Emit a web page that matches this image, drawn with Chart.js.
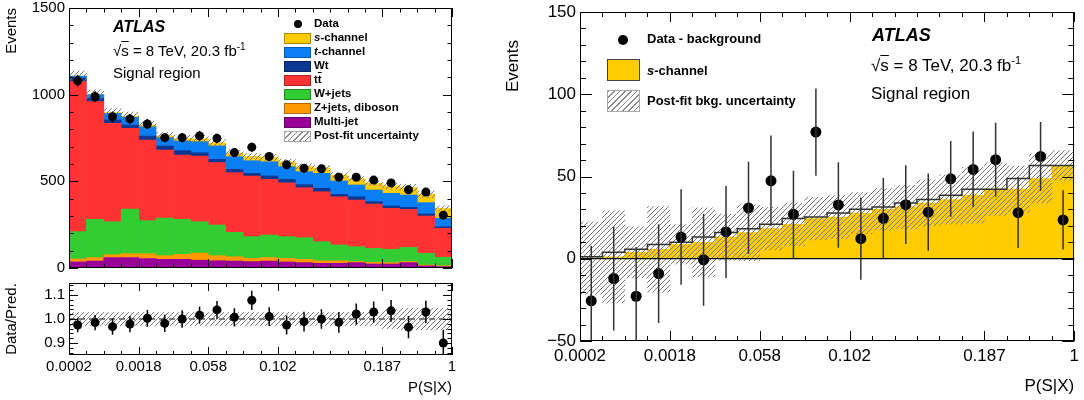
<!DOCTYPE html>
<html>
<head>
<meta charset="utf-8">
<script src="https://cdn.jsdelivr.net/npm/chart.js@4.4.1/dist/chart.umd.min.js"></script>
<style>
  html, body { margin: 0; padding: 0; background: #fff; }
  body { width: 1084px; height: 400px; position: relative; overflow: hidden;
         font-family: "Liberation Sans", Arial, Helvetica, sans-serif; color: #000; }
  canvas { position: absolute; }
  .txt { position: absolute; white-space: nowrap; line-height: 1; }
  .leg { position: absolute; white-space: nowrap; font-weight: bold; }
  .sw { position: absolute; box-sizing: border-box; }
  .dot { position: absolute; border-radius: 50%; background: #000; }
  .ov { text-decoration: overline; }
  .hatch { background: repeating-linear-gradient(135deg, #8a8a8a 0 1px, #fff 1px 4px); }
</style>
</head>
<body>
<canvas id="cTop" width="460" height="276" style="left:0;top:0"></canvas>
<canvas id="cRatio" width="460" height="124" style="left:0;top:276px"></canvas>
<canvas id="cRight" width="584" height="400" style="left:500px;top:0"></canvas>

<!-- left panel labels -->
<div class="txt" style="left:113px;top:18px;font:italic bold 16px 'Liberation Sans',Arial,sans-serif">ATLAS</div>
<div class="txt" style="left:113px;top:42px;font-size:15px">√<span class="ov">s</span> = 8 TeV, 20.3 fb<sup style="font-size:10px">-1</sup></div>
<div class="txt" style="left:113px;top:65px;font-size:15px">Signal region</div>

<!-- left legend -->
<div class="dot" style="left:294px;top:20px;width:8px;height:8px"></div>
<div class="leg" style="left:314px;top:17px;font-size:11.5px">Data</div>
<div class="sw" style="left:284px;top:33px;width:27px;height:11px;background:#ffcc00;border:1px solid #b08c00"></div>
<div class="leg" style="left:314px;top:31px;font-size:11.5px"><i>s</i>-channel</div>
<div class="sw" style="left:284px;top:47px;width:27px;height:11px;background:#0a7ff5;border:1px solid #0659b0"></div>
<div class="leg" style="left:314px;top:45px;font-size:11.5px"><i>t</i>-channel</div>
<div class="sw" style="left:284px;top:61px;width:27px;height:11px;background:#0b3892;border:1px solid #062360"></div>
<div class="leg" style="left:314px;top:59px;font-size:11.5px">Wt</div>
<div class="sw" style="left:284px;top:75px;width:27px;height:11px;background:#ff3333;border:1px solid #b82020"></div>
<div class="leg" style="left:314px;top:73px;font-size:11.5px">t<span class="ov">t</span></div>
<div class="sw" style="left:284px;top:89px;width:27px;height:11px;background:#33cc33;border:1px solid #1f8a1f"></div>
<div class="leg" style="left:314px;top:87px;font-size:11.5px">W+jets</div>
<div class="sw" style="left:284px;top:103px;width:27px;height:11px;background:#ff9900;border:1px solid #b36b00"></div>
<div class="leg" style="left:314px;top:101px;font-size:11.5px">Z+jets, diboson</div>
<div class="sw" style="left:284px;top:117px;width:27px;height:11px;background:#990099;border:1px solid #660066"></div>
<div class="leg" style="left:314px;top:115px;font-size:11.5px">Multi-jet</div>
<div class="sw hatch" style="left:284px;top:131px;width:27px;height:11px;border:1px solid #aaa"></div>
<div class="leg" style="left:314px;top:129px;font-size:11.5px">Post-fit uncertainty</div>

<!-- right panel labels -->
<div class="txt" style="left:512px;top:66px;font-size:17px;transform:translate(-50%,-50%) rotate(-90deg);transform-origin:center">Events</div>
<div class="txt" style="left:872px;top:25px;font:italic bold 18px 'Liberation Sans',Arial,sans-serif">ATLAS</div>
<div class="txt" style="left:871px;top:55px;font-size:17px">√<span class="ov">s</span> = 8 TeV, 20.3 fb<sup style="font-size:11px">-1</sup></div>
<div class="txt" style="left:871px;top:85px;font-size:17px">Signal region</div>

<!-- right legend -->
<div class="dot" style="left:618px;top:35px;width:10px;height:10px"></div>
<div class="leg" style="left:647px;top:31px;font-size:13px">Data - background</div>
<div class="sw" style="left:607px;top:59px;width:33px;height:22px;background:#ffcc00;border:1px solid #444"></div>
<div class="leg" style="left:647px;top:63px;font-size:13px"><i>s</i>-channel</div>
<div class="sw hatch" style="left:607px;top:90px;width:33px;height:22px;border:1px solid #aaa"></div>
<div class="leg" style="left:647px;top:93px;font-size:13px">Post-fit bkg. uncertainty</div>

<script>
  "use strict";

  // ====
  // Data
  // ====
  const binCount = 22;
  const binLabels = Array.from({ length: binCount }, (_, i) => String(i + 1));
  const tickPos = [0, 4, 8, 12, 18, 22];
  const tickLabels = ["0.0002", "0.0018", "0.058", "0.102", "0.187", "1"];
  const ratioTicks = [0.9, 1.0, 1.1];

  // stacked prediction, events per bin
  const multiJet = [35, 40, 60, 60, 54, 50, 50, 45, 42, 40, 37, 40, 35, 31, 27, 27, 31, 23, 23, 31, 12, 8];
  const zJetsDiboson = [17, 20, 17, 23, 29, 21, 29, 41, 29, 25, 19, 20, 21, 19, 15, 15, 6, 10, 8, 6, 5, 5];
  const wJets = [158, 221, 190, 257, 190, 217, 202, 181, 177, 141, 125, 130, 125, 125, 110, 91, 86, 80, 77, 82, 68, 49];
  const ttbar = [866, 679, 568, 466, 465, 393, 371, 378, 360, 344, 350, 321, 311, 288, 288, 278, 269, 256, 236, 219, 215, 167];
  const wt = [19, 19, 19, 19, 23, 23, 25, 20, 19, 19, 15, 20, 19, 18, 20, 14, 19, 14, 14, 12, 12, 9];
  const tChannel = [12, 21, 38, 45, 54, 48, 56, 64, 77, 73, 73, 82, 74, 75, 86, 77, 68, 67, 73, 71, 65, 49];
  const sChannel = [0.3, 1.2, 3.9, 5.7, 8.7, 10, 13.2, 15.9, 18.3, 20.9, 24.4, 25.4, 27.8, 30.1, 31.5, 33.9, 36, 38.6, 42.3, 42.3, 48.8, 56.7];
  const predUnc = [30, 27, 24, 24, 22, 21, 20, 20, 19, 18, 17, 17, 16, 16, 15, 14, 14, 13, 17, 20, 19, 15];

  const dataEvents = [1080, 988, 873, 860, 831, 752, 752, 762, 748, 666, 697, 643, 595, 576, 572, 524, 524, 507, 491, 451, 438, 305];
  const dataErr = [33, 31, 30, 29, 29, 27, 27, 28, 27, 26, 26, 25, 24, 24, 24, 23, 23, 22, 22, 21, 21, 17];

  // ratio panel
  const ratio = [0.975, 0.985, 0.968, 0.979, 1.003, 0.982, 1.0, 1.016, 1.038, 1.007, 1.078, 1.01, 0.975, 0.989, 1.0, 0.986, 1.021, 1.029, 1.034, 0.966, 1.029, 0.9];
  const ratioErr = [0.03, 0.032, 0.034, 0.034, 0.035, 0.036, 0.036, 0.036, 0.037, 0.038, 0.04, 0.039, 0.04, 0.041, 0.041, 0.043, 0.044, 0.044, 0.045, 0.046, 0.047, 0.055];
  const ratioUnc = [0.027, 0.027, 0.027, 0.027, 0.027, 0.027, 0.027, 0.027, 0.027, 0.027, 0.027, 0.027, 0.027, 0.027, 0.027, 0.027, 0.028, 0.028, 0.04, 0.045, 0.045, 0.045];

  // right panel: data minus background
  const dataMinusBkg = [-25.6, -12, -22.8, -9, 13.2, -0.6, 16.3, 30.9, 47.4, 27, 77, 32.7, 12.2, 24.6, 32.9, 28.3, 48.6, 54.3, 60.2, 28, 62.2, 23.6];
  const dataMinusBkgErr = [33.5, 31.6, 30, 30, 29, 28, 28, 28, 27.5, 26.5, 26.5, 26, 25, 24.5, 24, 23.5, 23, 23, 22.5, 21.5, 21, 18];
  const bkgUnc = [22, 28, 15.5, 26, 12, 21, 14, 17, 13, 13, 13, 13, 12.5, 12.5, 13, 14, 15, 17, 16, 14, 15, 9];

  // =======
  // Helpers
  // =======
  Chart.defaults.font.family = "'Liberation Sans', Arial, Helvetica, sans-serif";
  Chart.defaults.color = "#000";

  const makeHatch = (color) => {
    const c = document.createElement("canvas");
    c.width = 5;
    c.height = 5;
    const g = c.getContext("2d");
    g.strokeStyle = color;
    g.lineWidth = 1;
    g.beginPath();
    g.moveTo(-1, 6); g.lineTo(6, -1);
    g.moveTo(-3.5, 3.5); g.lineTo(3.5, -3.5);
    g.moveTo(1.5, 8.5); g.lineTo(8.5, 1.5);
    g.stroke();
    return g.createPattern(c, "repeat");
  };
  const hatch = makeHatch("#7a7a7a");

  // ROOT-style frame with inward ticks on all four sides
  const rootFrame = {
    id: "rootFrame",
    afterDraw(chart, args, opts) {
      const { ctx, chartArea: a } = chart;
      const xs = chart.scales.xr;
      const ys = chart.scales.y;
      ctx.save();
      ctx.strokeStyle = "#000";
      ctx.lineWidth = 1;
      ctx.beginPath();
      for (let i = 0; i <= binCount; i++) {
        const px = Math.round(xs.getPixelForValue(i)) + 0.5;
        const len = tickPos.includes(i) ? opts.xMajor : opts.xMinor;
        ctx.moveTo(px, a.bottom); ctx.lineTo(px, a.bottom - len);
        ctx.moveTo(px, a.top); ctx.lineTo(px, a.top + len);
      }
      const k0 = Math.ceil(ys.min / opts.yMinorStep - 1e-6);
      const k1 = Math.floor(ys.max / opts.yMinorStep + 1e-6);
      for (let k = k0; k <= k1; k++) {
        const v = k * opts.yMinorStep;
        const r = v / opts.yStep;
        const major = Math.abs(r - Math.round(r)) < 1e-6;
        const len = major ? opts.yMajor : opts.yMinor;
        const py = Math.round(ys.getPixelForValue(v)) + 0.5;
        ctx.moveTo(a.left, py); ctx.lineTo(a.left + len, py);
        ctx.moveTo(a.right, py); ctx.lineTo(a.right - len, py);
      }
      ctx.stroke();
      ctx.strokeRect(Math.round(a.left) + 0.5, Math.round(a.top) + 0.5,
        Math.round(a.right - a.left) - 1, Math.round(a.bottom - a.top) - 1);
      ctx.restore();
    },
  };

  // vertical error bars on point datasets
  const errorBars = {
    id: "errorBars",
    afterDatasetsDraw(chart) {
      const { ctx, chartArea: a } = chart;
      chart.data.datasets.forEach((ds, di) => {
        if (!ds.errors) return;
        const meta = chart.getDatasetMeta(di);
        const ys = chart.scales[meta.yAxisID];
        ctx.save();
        ctx.beginPath();
        ctx.rect(a.left, a.top, a.right - a.left, a.bottom - a.top);
        ctx.clip();
        ctx.strokeStyle = ds.errorColor || "#000";
        ctx.lineWidth = ds.errorWidth || 1.5;
        ctx.beginPath();
        meta.data.forEach((pt, i) => {
          const v = ds.data[i];
          const e = ds.errors[i];
          ctx.moveTo(pt.x, ys.getPixelForValue(v + e));
          ctx.lineTo(pt.x, ys.getPixelForValue(v - e));
        });
        ctx.stroke();
        ctx.restore();
      });
    },
  };

  const baseOptions = (frame) => ({
    animation: false,
    responsive: false,
    events: [],
    plugins: {
      legend: { display: false },
      tooltip: { enabled: false },
      rootFrame: frame,
    },
  });

  // fixed axis width, no extra vertical padding for end labels
  const fixWidth = (w) => (s) => {
    s.width = w;
    s.paddingTop = 0;
    s.paddingBottom = 0;
  };

  const stackBar = (label, data, color) => ({
    type: "bar",
    label,
    data,
    backgroundColor: color,
    borderWidth: 0,
    barPercentage: 1,
    categoryPercentage: 1,
    order: 3,
  });

  const xTickAxis = (size, height, pad) => ({
    type: "linear",
    position: "bottom",
    min: 0,
    max: binCount,
    afterBuildTicks: (s) => { s.ticks = tickPos.map((v) => ({ value: v })); },
    ticks: {
      callback: (v, i) => tickLabels[i],
      autoSkip: false,
      maxRotation: 0,
      padding: pad,
      font: { size },
      color: "#000",
    },
    grid: { display: false, drawTicks: false },
    border: { display: false },
    title: { display: true, text: "P(S|X)", align: "end", font: { size }, padding: { top: 2, bottom: 3 } },
    afterFit: (s) => { s.height = height; },
  });

  // ==========
  // Top-left
  // ==========
  const totals = multiJet.map((v, i) => v + zJetsDiboson[i] + wJets[i] + ttbar[i] + wt[i] + tChannel[i] + sChannel[i]);

  new Chart(document.getElementById("cTop"), {
    data: {
      labels: binLabels,
      datasets: [
        stackBar("Multi-jet", multiJet, "#990099"),
        stackBar("Z+jets, diboson", zJetsDiboson, "#ff9900"),
        stackBar("W+jets", wJets, "#33cc33"),
        stackBar("ttbar", ttbar, "#ff3333"),
        stackBar("Wt", wt, "#0b3892"),
        stackBar("t-channel", tChannel, "#0a7ff5"),
        stackBar("s-channel", sChannel, "#ffcc00"),
        {
          type: "bar",
          label: "Post-fit uncertainty",
          data: totals.map((t, i) => [t - predUnc[i], t + predUnc[i]]),
          yAxisID: "y2",
          backgroundColor: hatch,
          borderWidth: 0,
          grouped: false,
          barPercentage: 1,
          categoryPercentage: 1,
          order: 2,
        },
        {
          type: "line",
          label: "Data",
          data: dataEvents,
          errors: dataErr,
          yAxisID: "y2",
          showLine: false,
          pointRadius: 4.5,
          pointBorderWidth: 0,
          pointBackgroundColor: "#000",
          order: 1,
        },
      ],
    },
    options: {
      ...baseOptions({ xMajor: 9, xMinor: 4.5, yStep: 500, yMinorStep: 100, yMajor: 9, yMinor: 4.5 }),
      layout: { autoPadding: false, padding: { left: 0, top: 8, right: 8, bottom: 8 } },
      scales: {
        x: { type: "category", stacked: true, display: false, offset: true },
        xr: { type: "linear", min: 0, max: binCount, display: false },
        y: {
          stacked: true,
          min: 0,
          max: 1500,
          ticks: { stepSize: 500, padding: 4, font: { size: 15 }, color: "#000", callback: (v) => String(v) },
          grid: { display: false, drawTicks: false },
          border: { display: false },
          title: { display: true, text: "Events", align: "end", font: { size: 15 }, padding: { top: 3, bottom: 3 } },
          afterFit: fixWidth(69),
        },
        y2: { min: 0, max: 1500, display: false },
      },
    },
    plugins: [rootFrame, errorBars],
  });

  // ==========
  // Ratio
  // ==========
  new Chart(document.getElementById("cRatio"), {
    data: {
      labels: binLabels,
      datasets: [
        {
          type: "bar",
          data: ratioUnc.map((u) => [1 - u, 1 + u]),
          backgroundColor: hatch,
          borderWidth: 0,
          grouped: false,
          barPercentage: 1,
          categoryPercentage: 1,
          order: 3,
        },
        {
          type: "line",
          data: [{ x: 0, y: 1 }, { x: binCount, y: 1 }],
          xAxisID: "xr",
          borderColor: "#555",
          borderWidth: 1.5,
          borderDash: [6, 4],
          pointRadius: 0,
          order: 2,
        },
        {
          type: "line",
          data: ratio,
          errors: ratioErr,
          xAxisID: "x",
          showLine: false,
          pointRadius: 4.5,
          pointBorderWidth: 0,
          pointBackgroundColor: "#000",
          order: 1,
        },
      ],
    },
    options: {
      ...baseOptions({ xMajor: 8, xMinor: 4, yStep: 0.1, yMinorStep: 0.02, yMajor: 9, yMinor: 4.5 }),
      layout: { autoPadding: false, padding: { left: 0, top: 7, right: 8, bottom: 0 } },
      scales: {
        x: { type: "category", display: false, offset: true },
        xr: xTickAxis(15, 45, 3),
        y: {
          min: 0.85,
          max: 1.15,
          afterBuildTicks: (s) => { s.ticks = ratioTicks.map((v) => ({ value: v })); },
          ticks: { callback: (v) => v.toFixed(1), padding: 4, font: { size: 15 }, color: "#000" },
          grid: { display: false, drawTicks: false },
          border: { display: false },
          title: { display: true, text: "Data/Pred.", align: "center", font: { size: 15 }, padding: { top: 3, bottom: 3 } },
          afterFit: fixWidth(69),
        },
      },
    },
    plugins: [rootFrame, errorBars],
  });

  // ==========
  // Right
  // ==========
  new Chart(document.getElementById("cRight"), {
    data: {
      labels: binLabels,
      datasets: [
        {
          type: "bar",
          label: "s-channel",
          data: sChannel,
          backgroundColor: "#ffcc00",
          borderWidth: 0,
          grouped: false,
          barPercentage: 1,
          categoryPercentage: 1,
          order: 4,
        },
        {
          type: "bar",
          label: "Post-fit bkg. uncertainty",
          data: sChannel.map((s, i) => [s - bkgUnc[i], s + bkgUnc[i]]),
          backgroundColor: hatch,
          borderWidth: 0,
          grouped: false,
          barPercentage: 1,
          categoryPercentage: 1,
          order: 3,
        },
        {
          type: "line",
          data: sChannel.map((s, i) => ({ x: i, y: s })).concat([{ x: binCount, y: sChannel[binCount - 1] }]),
          xAxisID: "xr",
          stepped: "after",
          borderColor: "#333",
          borderWidth: 1.5,
          pointRadius: 0,
          order: 2,
        },
        {
          type: "line",
          label: "Data - background",
          data: dataMinusBkg,
          errors: dataMinusBkgErr,
          errorColor: "#333",
          errorWidth: 1.5,
          xAxisID: "x",
          showLine: false,
          pointRadius: 5.5,
          pointBorderWidth: 0,
          pointBackgroundColor: "#000",
          order: 1,
        },
      ],
    },
    options: {
      ...baseOptions({ xMajor: 10, xMinor: 5, yStep: 50, yMinorStep: 10, yMajor: 12, yMinor: 6 }),
      layout: { autoPadding: false, padding: { left: 6, top: 12, right: 8, bottom: 0 } },
      scales: {
        x: { type: "category", display: false, offset: true },
        xr: xTickAxis(17, 59, 5),
        y: {
          min: -50,
          max: 150,
          ticks: {
            stepSize: 50,
            padding: 4,
            font: { size: 17 },
            color: "#000",
            callback: (v) => (v < 0 ? "\u2212" + Math.abs(v) : String(v)),
          },
          grid: {
            display: true,
            drawTicks: false,
            z: 1,
            lineWidth: 1.2,
            color: (c) => (c.tick && c.tick.value === 0 ? "#000" : "rgba(0,0,0,0)"),
          },
          border: { display: false },
          afterFit: fixWidth(74),
        },
      },
    },
    plugins: [rootFrame, errorBars],
  });
</script>
</body>
</html>
